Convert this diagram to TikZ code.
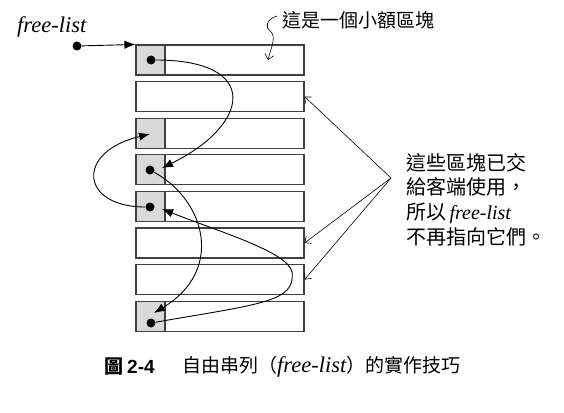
\documentclass[tikz,border=0pt]{standalone}
\usepackage{fontspec}
\setmainfont{Liberation Serif}
\newfontfamily\cjk{Noto Sans CJK TC}
\newfontfamily\hv{Liberation Sans}
\usetikzlibrary{arrows.meta}
\newcommand\fl[1]{{\normalfont\fontsize{#1}{#1}\selectfont\itshape free-list}}
\begin{document}
\begin{tikzpicture}[x=1pt,y=-1pt,
  blk/.style={draw=black!75, line width=1.1pt, minimum width=168pt, minimum height=30pt, inner sep=0pt, fill=white},
  cell/.style={draw=black!75, line width=1.1pt, fill=black!15, minimum width=29pt, minimum height=30pt, inner sep=0pt},
  dot/.style={circle, fill=black, inner sep=0pt, minimum size=9pt},
  link/.style={line width=0.9pt, -{Latex[length=11pt,width=8.5pt]}},
  note/.style={line width=0.6pt, -{Straight Barb[length=5pt,width=9pt]}},
  txt/.style={font=\fontsize{19}{24.5}\selectfont\cjk, inner sep=0pt}
]
\useasboundingbox (0,0) rectangle (564,412);
% blocks
\foreach \i/\y in {1/60,2/96.6,3/133.2,4/169.8,5/206.4,6/243,7/279.6,8/316.2}
  \node[blk] (b\i) at (220,\y) {};
\foreach \i in {1,3,4,5,8}
  \node[cell, anchor=west] (c\i) at (b\i.west) {};
% dots
\node[dot] (d0) at (77,46) {};
\node[dot] (d1) at (151,60) {};
\node[dot] (d4) at (150,170) {};
\node[dot] (d5) at (150,207) {};
\node[dot] (d8) at (151,323) {};
% targets
\coordinate (t3) at (150,134);
\coordinate (t4) at (162,168);
\coordinate (t5) at (162,209);
\coordinate (t8) at (154,313);
\coordinate (k8) at (292,272);
% free-list pointer
\node[anchor=base west, inner sep=0pt, font=\fontsize{22.5}{22.5}\selectfont\itshape] (fl) at (17,33) {free-list};
\draw[link] (d0) -- (b1.north west);
% links
\draw[link] (d1) .. controls (262,60) and (250,125) .. (t4);
\draw[link] (d4) .. controls (205,200) and (225,270) .. (t8);
\draw[link] (d8) .. controls (260,304) and (296,302) .. (k8) .. controls (288,252) and (220,232) .. (t5);
\draw[link] (d5) .. controls (80,207) and (75,152) .. (t3);
% top note
\node[txt, anchor=west] (lbl) at (282,20) {這是一個小額區塊};
\coordinate (s0) at (277,16);
\coordinate (s1) at (268,60);
\draw[note] (s0) .. controls (266,19) and (265,28) .. (270,31) .. controls (277,36) and (271,48) .. (s1);
% right note
\node[txt, font=\fontsize{20}{24.6}\selectfont\cjk, anchor=north west, align=left] (nt) at (406,153) {這些區塊已交\\給客端使用，\\所以\,\fl{20}\\不再指向它們。};
\coordinate (src) at (391,178);
\draw[note] (src) -- (b2.east);
\draw[note] (src) -- (b6.east);
\draw[note] (src) -- (b7.east);
% caption
\node[anchor=west, inner sep=0pt, font=\fontsize{19}{19}\selectfont\cjk\bfseries] (cap1) at (104,367) {圖};
\node[anchor=west, inner sep=0pt, font=\fontsize{19}{19}\selectfont\hv\bfseries] (cap2) at (127,367) {2-4};
\node[txt, anchor=west] (cap3) at (182,367) {自由串列（\fl{22.5}）的實作技巧};
\end{tikzpicture}
\end{document}
